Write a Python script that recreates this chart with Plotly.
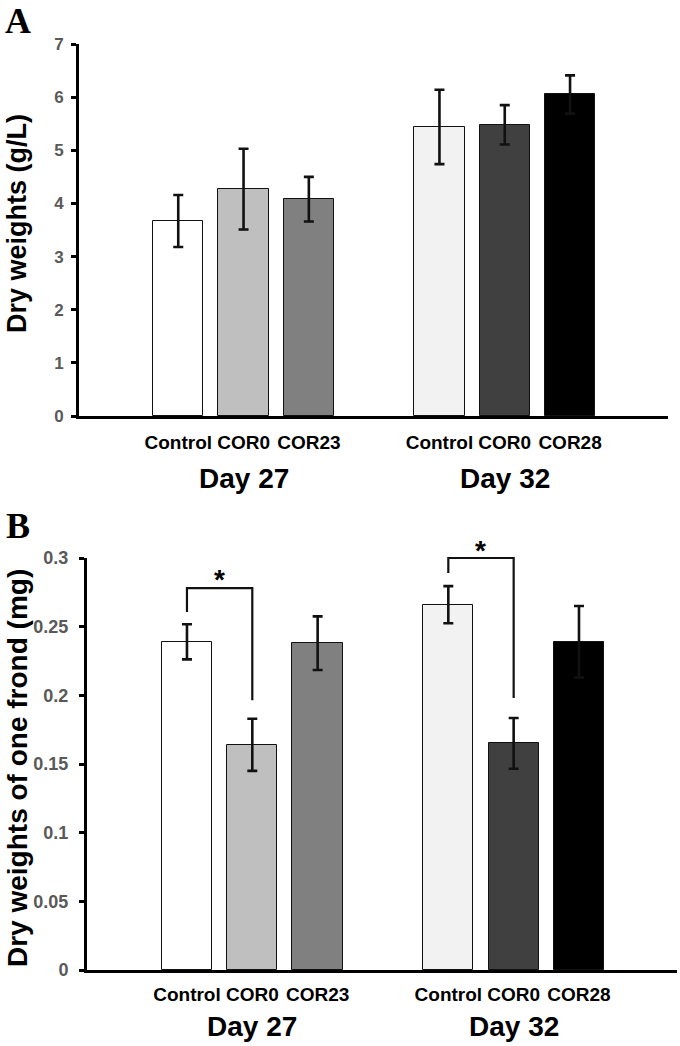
import plotly.graph_objects as go

# ---------------- data ----------------
days = ["Day 27", "Day 32"]
treatments_day27 = ["Control", "COR0", "COR23"]
treatments_day32 = ["Control", "COR0", "COR28"]

# Panel A: dry weights (g/L)
dw_day27 = [3.67, 4.27, 4.08]
dw_day27_err = [0.49, 0.76, 0.42]
dw_day32 = [5.44, 5.48, 6.05]
dw_day32_err = [0.70, 0.37, 0.36]

# Panel B: dry weights of one frond (mg)
frond_day27 = [0.239, 0.164, 0.238]
frond_day27_err = [0.0128, 0.019, 0.0195]
frond_day32 = [0.266, 0.165, 0.239]
frond_day32_err = [0.0135, 0.0185, 0.026]

# significance brackets in panel B (Control vs COR0): left foot, top, right foot, star level
bracket_day27 = [0.2606, 0.278, 0.1965, 0.289]
bracket_day32 = [0.289, 0.300, 0.198, 0.310]

a_ticks = [0, 1, 2, 3, 4, 5, 6, 7]
b_ticks = [0, 0.05, 0.1, 0.15, 0.2, 0.25, 0.3]
b_ticktext = ["0", "0.05", "0.1", "0.15", "0.2", "0.25", "0.3"]
a_range = [0, 7]
b_range = [0, 0.3]

# ---------------- styling ----------------
colors_day27 = ["#FFFFFF", "#BFBFBF", "#808080"]
colors_day32 = ["#F2F2F2", "#404040", "#000000"]
SANS = "Liberation Sans, Arial, sans-serif"
SERIF = "Liberation Serif, Times New Roman, serif"
TICKGRAY = "#595959"
H = 1046
W = 680
a_ydom = [1 - 416 / H, 1 - 44 / H]
b_ydom = [1 - 970 / H, 1 - 558 / H]

# slot positions: three bars per day, one empty slot between days
labels = treatments_day27 + treatments_day32
pos = [g * 4 + i for g in range(2) for i in range(3)]
colors = colors_day27 + colors_day32
day_pos = [g * 4 + 1 for g in range(2)]


def b_to_paper(v):
    return b_ydom[0] + (v - b_range[0]) / (b_range[1] - b_range[0]) * (b_ydom[1] - b_ydom[0])


fig = go.Figure()

fig.add_trace(go.Bar(
    x=pos, y=dw_day27 + dw_day32, width=0.77,
    marker=dict(color=colors, line=dict(color="#111111", width=1)),
    error_y=dict(type="data", array=dw_day27_err + dw_day32_err, visible=True,
                 color="#111111", thickness=2.6, width=5),
    xaxis="x", yaxis="y", showlegend=False,
))
fig.add_trace(go.Bar(
    x=pos, y=frond_day27 + frond_day32, width=0.77,
    marker=dict(color=colors, line=dict(color="#111111", width=1)),
    error_y=dict(type="data", array=frond_day27_err + frond_day32_err, visible=True,
                 color="#111111", thickness=2.6, width=5),
    xaxis="x2", yaxis="y2", showlegend=False,
))

xcommon = dict(showline=True, linewidth=3, linecolor="black", ticks="",
               showgrid=False, zeroline=False, tickmode="array", automargin=False,
               tickvals=pos, ticktext=labels,
               tickfont=dict(family=SANS, size=19, color="black", weight="bold"))
ycommon = dict(showline=True, linewidth=3, linecolor="black", ticks="outside",
               ticklen=5, tickwidth=2.5, tickcolor="black", showgrid=False,
               zeroline=False, tickmode="array", automargin=False)

fig.update_layout(
    width=W, height=H,
    margin=dict(l=0, r=0, t=0, b=0, pad=0),
    paper_bgcolor="white", plot_bgcolor="white",
    bargap=0,
    xaxis=dict(**xcommon, domain=[79 / W, 668 / W], range=[-1.52, 7.5],
               anchor="y", ticklabelstandoff=7),
    yaxis=dict(**ycommon, domain=a_ydom, range=a_range,
               tickvals=a_ticks, anchor="x", ticklabelstandoff=4,
               tickfont=dict(family=SANS, size=17, color=TICKGRAY, weight="bold")),
    xaxis2=dict(**xcommon, domain=[87 / W, 677 / W], range=[-1.53, 7.5],
                anchor="y2", ticklabelstandoff=5),
    yaxis2=dict(**ycommon, domain=b_ydom, range=b_range,
                tickvals=b_ticks, ticktext=b_ticktext, anchor="x2", ticklabelstandoff=7,
                tickfont=dict(family=SANS, size=18, color=TICKGRAY, weight="bold")),
)

ann = []
dayfont = dict(family=SANS, size=28, color="black", weight="bold")
for d, p in zip(days, day_pos):
    ann.append(dict(text=d, x=p, xref="x", y=1 - 479 / H, yref="paper", xanchor="center",
                    yanchor="middle", showarrow=False, font=dayfont))
    ann.append(dict(text=d, x=p, xref="x2", y=1 - 1026 / H, yref="paper", xanchor="center",
                    yanchor="middle", showarrow=False, font=dayfont))
# y titles
ann.append(dict(text="Dry weights (g/L)", x=17 / W, xref="paper", y=1 - 224 / H, yref="paper",
                textangle=-90, showarrow=False, xanchor="center", yanchor="middle",
                font=dict(family=SANS, size=27, color="black", weight="bold")))
ann.append(dict(text="Dry weights of one frond (mg)", x=17 / W, xref="paper", y=1 - 768 / H,
                yref="paper", textangle=-90, showarrow=False, xanchor="center", yanchor="middle",
                font=dict(family=SANS, size=28, color="black", weight="bold")))
# panel letters
ann.append(dict(text="A", x=18 / W, xref="paper", y=1 - 21 / H, yref="paper", showarrow=False,
                xanchor="center", yanchor="middle",
                font=dict(family=SERIF, size=36, color="black", weight="bold")))
ann.append(dict(text="B", x=18 / W, xref="paper", y=1 - 526 / H, yref="paper", showarrow=False,
                xanchor="center", yanchor="middle",
                font=dict(family=SERIF, size=36, color="black", weight="bold")))

# significance brackets
shapes = []
for g, br in enumerate([bracket_day27, bracket_day32]):
    xl, xr = pos[g * 3], pos[g * 3 + 1]
    left_foot, top, right_foot, star = [b_to_paper(v) for v in br]
    path = f"M {xl},{left_foot} L {xl},{top} L {xr},{top} L {xr},{right_foot}"
    shapes.append(dict(type="path", path=path, xref="x2", yref="paper",
                       line=dict(color="#111111", width=2.2)))
    ann.append(dict(text="*", x=(xl + xr) / 2, xref="x2", y=star, yref="paper", showarrow=False,
                    xanchor="center", yanchor="middle", yshift=-6,
                    font=dict(family=SANS, size=28, color="black", weight="bold")))

fig.update_layout(annotations=ann, shapes=shapes)
fig.write_html("out.html", config={"displayModeBar": False},
               post_script="document.body.style.margin='0';")
